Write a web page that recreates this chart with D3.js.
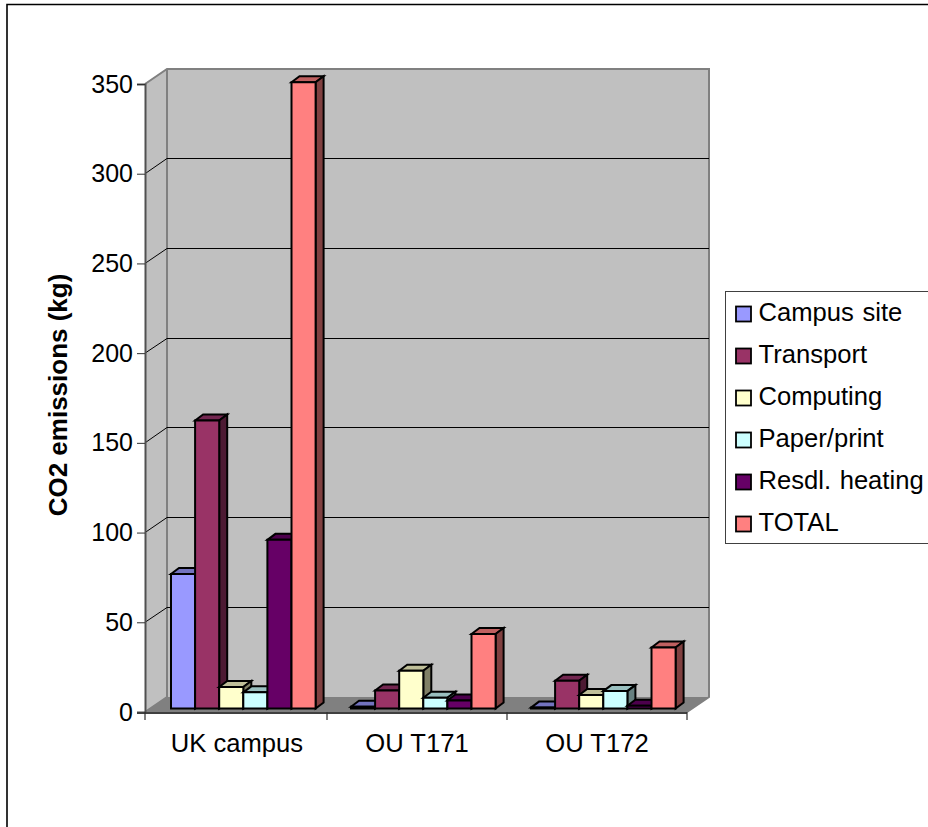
<!DOCTYPE html>
<html><head><meta charset="utf-8">
<script src="https://cdn.jsdelivr.net/npm/d3@7/dist/d3.min.js"></script>
<style>html,body{margin:0;padding:0;background:#fff}svg{display:block}text{font-family:"Liberation Sans",Arial,sans-serif;fill:#000}</style>
</head><body><svg id="c" width="928" height="827"></svg>
<script>
const categories = ["UK campus","OU T171","OU T172"];
const seriesNames = ["Campus site","Transport","Computing","Paper/print","Resdl. heating","TOTAL"];
const campusSite = [75,1,0.5];
const transport = [160.5,10,15.5];
const computing = [12,21,7.5];
const paperPrint = [9,6,9.7];
const resdlHeating = [94,4.5,1.5];
const total = [349,41.5,34];
const seriesValues = [campusSite,transport,computing,paperPrint,resdlHeating,total];
const yTicks = [0,50,100,150,200,250,300,350];
const colors = ["#9999ff","#993366","#ffffcc","#ccffff","#660066","#ff8080"];
const topColors = ["#7373bf","#732650","#bfbf99","#99bfbf","#4d004d","#bf6060"];
const sideColors = ["#4d4d80","#4d1a33","#808066","#668080","#330033","#804040"];

const svg = d3.select("#c");
const L=145,BL=147,R=687,T=84,B=712,DX=22,DY=15;
const x = d3.scaleBand().domain(categories).range([BL,R]);
const y = d3.scaleLinear().domain([0,350]).range([B,T]);
const poly=(pts,fill,stroke,sw)=>svg.append("polygon").attr("points",pts.map(p=>p.join(",")).join(" ")).attr("fill",fill).attr("stroke",stroke||"none").attr("stroke-width",sw||0);

// outer frame
svg.append("path").attr("d","M7,827V4.5H928").attr("fill","none").attr("stroke","#000").attr("stroke-width",1.6);

// walls
poly([[L,T],[L+DX,T-DY],[L+DX,B-DY],[L,B]],"#c0c0c0");
poly([[L+DX,T-DY],[R+DX,T-DY],[R+DX,B-DY],[L+DX,B-DY]],"#c0c0c0");
poly([[L,B],[L+DX,B-DY],[R+DX,B-DY],[R,B]],"#808080");
svg.append("path").attr("d",`M${L},${T}L${L+DX},${T-DY}H${R+DX}V${B-DY}L${R},${B}M${L+DX},${T-DY}V${B-DY}L${L},${B}`)
 .attr("fill","none").attr("stroke","#808080").attr("stroke-width",2);

// gridlines
yTicks.slice(1,-1).forEach(v=>{
  svg.append("path").attr("d",`M${L},${y(v)}L${L+DX},${Math.floor(y(v)-DY)+.5}H${R+DX}`).attr("fill","none").attr("stroke","#000").attr("stroke-width",1);
});

// axes
const yAxis = svg.append("g").attr("transform",`translate(${L},0)`)
  .call(d3.axisLeft(y).tickValues(yTicks).tickSize(8).tickPadding(4).tickFormat(d3.format("d")));
yAxis.selectAll("text").attr("font-size",25).attr("font-family","Liberation Sans");
yAxis.select(".domain").attr("stroke","#505050").attr("stroke-width",2);
yAxis.selectAll(".tick line").attr("stroke","#303030");
const xAxis = svg.append("g").attr("transform",`translate(0,${B})`)
  .call(d3.axisBottom(x).tickSize(0).tickPadding(22));
xAxis.selectAll("text").attr("font-size",25.6).attr("font-family","Liberation Sans");
xAxis.select(".domain").remove();
svg.append("path").attr("d",`M${L-8},${B+1}H${R}`).attr("fill","none").attr("stroke","#404040").attr("stroke-width",2);
svg.append("path").attr("d",[L,...categories.map(c=>x(c)+x.bandwidth())].map(v=>`M${v},${B}V${B+8}`).join(""))
  .attr("fill","none").attr("stroke","#303030").attr("stroke-width",1.2);

// bars
const bw=24.1, off=24, bdx=8, bdy=6, base=708.5;
const yb = v=> base-(y(0)-y(v));
categories.forEach((c,ci)=>{
  seriesValues.forEach((vals,si)=>{
    const x0=x(c)+off+si*bw, x1=x0+bw, yt=yb(vals[ci]);
    poly([[x0,yt],[x0+bdx,yt-bdy],[x1+bdx,yt-bdy],[x1,yt]],topColors[si],"#000",2);
    poly([[x1,yt],[x1+bdx,yt-bdy],[x1+bdx,base-bdy],[x1,base]],sideColors[si],"#000",2);
    poly([[x0,yt],[x1,yt],[x1,base],[x0,base]],colors[si],"#000",2);
  });
});

// y title
svg.append("text").attr("transform","translate(67,395) rotate(-90)").attr("text-anchor","middle")
 .attr("font-size",26).attr("font-weight","bold").text("CO2 emissions (kg)");

// legend
svg.append("rect").attr("x",725.5).attr("y",291.5).attr("width",204).attr("height",252).attr("fill","#fff").attr("stroke","#404040");
seriesNames.forEach((n,i)=>{
  const cy=306+i*42;
  svg.append("rect").attr("x",736).attr("y",cy+.5).attr("width",15).attr("height",15).attr("fill",colors[i]).attr("stroke","#000").attr("stroke-width",1.8);
  svg.append("text").attr("x",758.5).attr("y",cy+15).attr("font-size",25.6).attr("word-spacing",1.5).text(n);
});
</script></body></html>
